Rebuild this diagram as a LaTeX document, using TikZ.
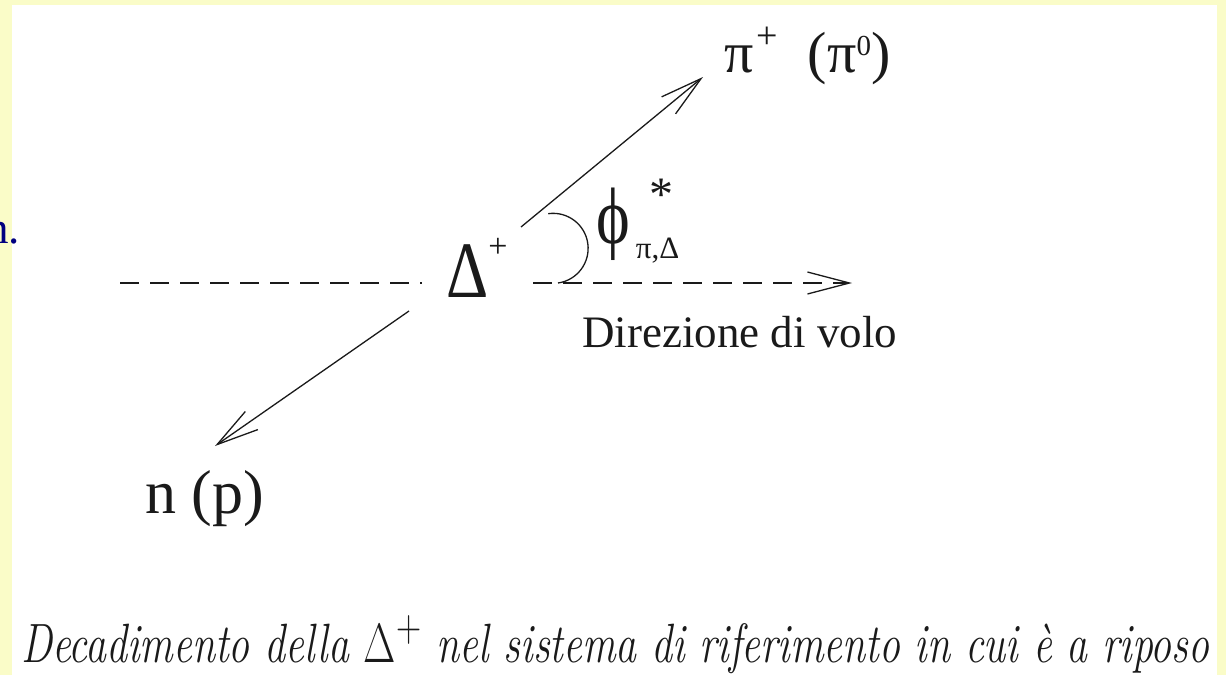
\documentclass[tikz,border=0pt]{standalone}
\usepackage{fontspec}
\usepackage{amsmath}
\usepackage{tikz}
\usetikzlibrary{positioning,arrows.meta,calc}
\newfontfamily\timesfont{Liberation Serif}
\definecolor{ink}     {HTML}{1A1A1A}
\definecolor{frame}   {HTML}{FAFCC8}
\definecolor{navyink} {HTML}{000080}
\tikzset{
  % --- nodes
  lbl/.style   = {inner sep=0pt, font=\timesfont, text=ink},
  caplbl/.style= {inner sep=0pt, text=ink},
  cutlbl/.style= {inner sep=0pt, font=\timesfont, text=navyink},
  % --- edges
  e/.style     = {-{Straight Barb[length=42pt,width=22pt,line width=1.3pt]}, line width=1.3pt, draw=ink},
  ed/.style    = {e, dash pattern=on 19pt off 11pt},
  eplain/.style= {line width=1.3pt, draw=ink, dash pattern=on 19pt off 11pt},
  anglearc/.style = {line width=1.3pt, draw=ink},
}
\begin{document}
\begin{tikzpicture}[x=1pt,y=-1pt]
  \fill[frame] (0,0) rectangle (1226,675);
  \fill[white] (12,5) rectangle (1217,675);
  \useasboundingbox (0,0) rectangle (1226,675);
  % labels
  \node[cutlbl, anchor=base east] (cutn) at (20,243) {\fontsize{45}{45}\selectfont n.};
  \node[lbl, anchor=base west] (delta) at (446,297)
    {\scalebox{0.82}[1]{\fontsize{80}{80}\selectfont Δ}\raisebox{40pt}{\fontsize{34}{34}\selectfont +}};
  \node[lbl, anchor=base west] (pion) at (724,72)
    {\fontsize{58}{58}\selectfont π\hspace{3pt}\raisebox{24pt}{\fontsize{38}{38}\selectfont +}\hspace{30pt}(π\raisebox{17pt}{\fontsize{29}{29}\selectfont 0})};
  \node[lbl, anchor=base west] (nucl) at (145,513) {\fontsize{62}{62}\selectfont n (p)};
  \node[lbl, anchor=base west] (phi) at (596,243)
    {\scalebox{1}[1.25]{\fontsize{64}{64}\selectfont ϕ}\rlap{\hspace{6pt}\raisebox{-15pt}{\fontsize{31}{31}\selectfont π,Δ}}\hspace{20pt}\raisebox{33pt}{\fontsize{48}{48}\selectfont *}};
  \node[lbl, anchor=base west] (dir) at (582,347) {\fontsize{45}{45}\selectfont Direzione di volo};
  \node[caplbl, anchor=base west] (caption) at (21,662)
    {\scalebox{1.682}[2.226]{\fontsize{24.88}{30}\selectfont\itshape Decadimento della $\Delta^+$ nel sistema di riferimento in cui è a riposo}};
  % ends of the tracks
  \coordinate (inL)  at (120,283);
  \coordinate (inR)  at (422,283);
  \coordinate (flyA) at (533,283);
  \coordinate (flyB) at (852,283);
  \coordinate (piA)  at (521,227);
  \coordinate (piB)  at (703,77);
  \coordinate (nA)   at (409,311);
  \coordinate (nB)   at (215,446);
  \coordinate (arclo) at (558,283);
  % tracks
  \draw[eplain] (inL) -- (inR);
  \draw[ed] (flyA) -- (flyB);
  \draw[e] (piA) -- (piB);
  \draw[e] (nA) -- (nB);
  \draw[anglearc] (arclo) arc[start angle=82, end angle=-98, radius=35];
\end{tikzpicture}
\end{document}
